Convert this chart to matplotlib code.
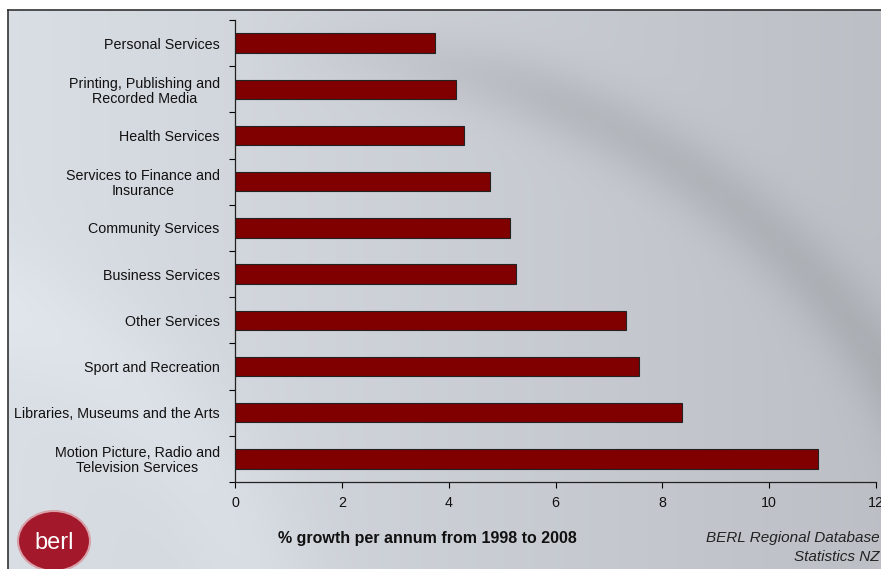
import numpy as np
import matplotlib.pyplot as plt
from matplotlib.patches import Ellipse

plt.rcParams['font.family'] = ['Liberation Sans', 'DejaVu Sans']

# Growth by industry, % per annum 1998-2008
industries = ['Personal Services', 'Printing, Publishing and\nRecorded Media',
              'Health Services', 'Services to Finance and\nInsurance',
              'Community Services', 'Business Services', 'Other Services',
              'Sport and Recreation', 'Libraries, Museums and the Arts',
              'Motion Picture, Radio and\nTelevision Services']
growth = [3.74, 4.13, 4.29, 4.78, 5.14, 5.26, 7.32, 7.56, 8.36, 10.91]
xticks = [0, 2, 4, 6, 8, 10, 12]

W, H = 881, 569
fig = plt.figure(figsize=(W / 100, H / 100), dpi=100)

# grey swirl background
bg = fig.add_axes([0, 0, 1, 1], zorder=0)
yy, xx = np.mgrid[0:H, 0:W]
shade = 0.88 - 0.12 * (xx / W)
r = np.hypot(xx - 300, yy - 750)
shade -= 0.07 * np.exp(-((r - 697) / 35.0) ** 2) * np.clip((xx - 250) / 300, 0, 1)
r2 = np.hypot(xx + 150, yy - 700)
shade += 0.03 * np.exp(-((r2 - 420) / 60.0) ** 2)
img = np.dstack([shade * 0.97, shade * 0.99, shade * 1.02]).clip(0, 1)
img[:10, :] = 1.0
img[:, :8] = 1.0
bg.imshow(img, extent=[0, W, H, 0], aspect='auto')
bg.plot([8, W], [10, 10], color='#333333', lw=1.2)
bg.plot([8, 8], [10, H], color='#333333', lw=1.2)
bg.set_xlim(0, W)
bg.set_ylim(H, 0)
bg.axis('off')

ax = fig.add_axes([235 / W, 1 - 482 / H, 641 / W, 462 / H], zorder=1)
ax.patch.set_alpha(0)
y = np.arange(len(industries))
ax.barh(y, growth, height=0.42, color='#800000', edgecolor='#222222', linewidth=0.8)
ax.set_ylim(len(industries) - 0.5, -0.5)
ax.set_xlim(0, 12)

ax.set_yticks(np.arange(len(industries) + 1) - 0.5)
ax.set_yticklabels([])
ax.set_yticks(y, minor=True)
ax.set_yticklabels(industries, minor=True, fontsize=10.3, ha='right',
                   multialignment='center', linespacing=1.1, color='#111111')
ax.tick_params(axis='y', which='minor', length=0, pad=11)
ax.tick_params(axis='y', which='major', length=4, width=0.8)
ax.set_xticks(xticks)
ax.set_xticklabels([str(t) for t in xticks], fontsize=10.3, color='#111111')
ax.tick_params(axis='x', length=4, width=0.8, pad=6)
for s in ['top', 'right']:
    ax.spines[s].set_visible(False)
for s in ['left', 'bottom']:
    ax.spines[s].set_color('#222222')
    ax.spines[s].set_linewidth(0.9)

fig.text(427 / W, 1 - 538 / H, '% growth per annum from 1998 to 2008',
         fontsize=11.5, fontweight='bold', ha='center', va='center', color='#111111')
fig.text(880 / W, 1 - 538 / H, 'BERL Regional Database', fontsize=11,
         style='italic', ha='right', va='center', color='#222222')
fig.text(880 / W, 1 - 557 / H, 'Statistics NZ', fontsize=11,
         style='italic', ha='right', va='center', color='#222222')

# berl logo
bg.add_patch(Ellipse((54, 541), 72, 60, facecolor='#a3182b', edgecolor='#d8a0a8', lw=1.5))
bg.text(54, 543, 'berl', color='white', fontsize=17, ha='center', va='center')

fig.savefig('out.png', dpi=100)
